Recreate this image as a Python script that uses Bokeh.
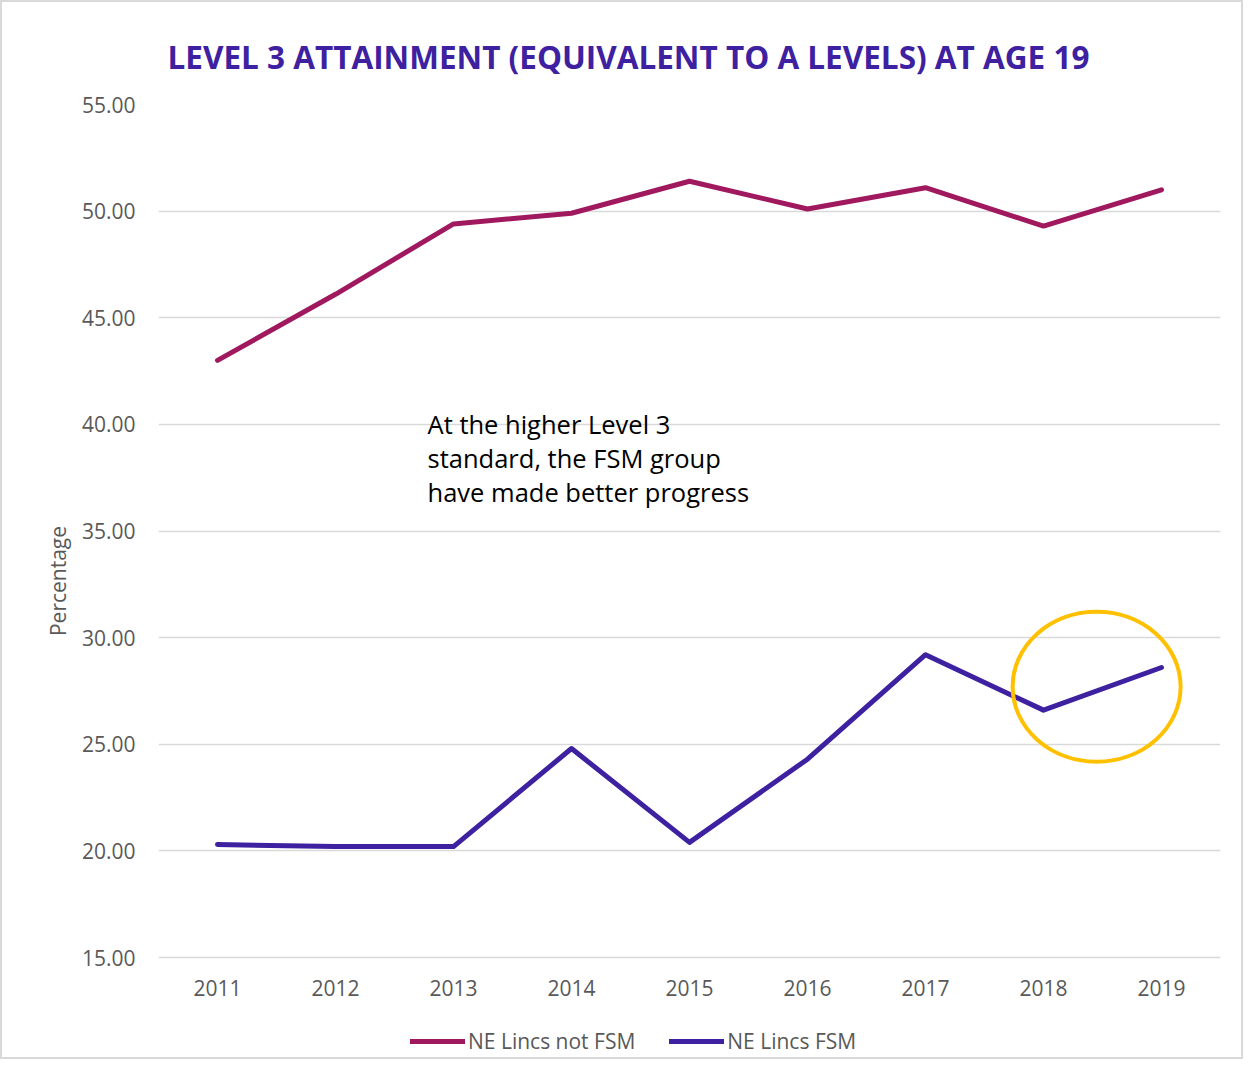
from bokeh.plotting import figure
from bokeh.models import (Range1d, FixedTicker, NumeralTickFormatter, Legend, LegendItem,
                          Label, ColumnDataSource)
from bokeh.embed import file_html
from bokeh.resources import INLINE

years = ["2011", "2012", "2013", "2014", "2015", "2016", "2017", "2018", "2019"]
not_fsm = [43.0, 46.1, 49.4, 49.9, 51.4, 50.1, 51.1, 49.3, 51.0]
fsm = [20.3, 20.2, 20.2, 24.8, 20.4, 24.3, 29.2, 26.6, 28.6]
y_ticks = [15, 20, 25, 30, 35, 40, 45, 50, 55]
title_text = "LEVEL 3 ATTAINMENT (EQUIVALENT TO A LEVELS) AT AGE 19"
note_text = "At the higher Level 3\nstandard, the FSM group\nhave made better progress"
series_names = ["NE Lincs not FSM", "NE Lincs FSM"]

C_NOT = "#A0195F"
C_FSM = "#3D21A0"
GRAY = "#595959"
FONT = "Open Sans"

# plot area 853px for 15..55, plus 100px below the axis for the legend
y_min, y_max = y_ticks[0], y_ticks[-1]
y_start = y_min - (y_max - y_min) * 100 / 853

p = figure(x_range=years, y_range=Range1d(y_start, y_max), frame_width=1062, frame_height=953,
           output_backend="svg", toolbar_location=None,
           min_border_left=156, min_border_right=21, min_border_top=102, min_border_bottom=0)
p.x_range.range_padding = 0
p.outline_line_color = None
p.styles = {"border": "2px solid #D9D9D9"}

p.title.text = title_text
p.title.align = "left"
p.title.vertical_align = "top"
p.title.text_color = C_FSM
p.title.text_font = FONT
p.title.text_font_size = "31.5px"
p.title.text_font_style = "bold"
p.title.offset = 9
p.title.standoff = 49

p.xgrid.grid_line_color = None
p.ygrid.grid_line_color = "#D9D9D9"
p.ygrid.grid_line_width = 1.5

p.yaxis.ticker = FixedTicker(ticks=y_ticks)
p.yaxis.formatter = NumeralTickFormatter(format="0.00")
for ax in (p.xaxis[0], p.yaxis[0]):
    ax.axis_line_color = None
    ax.major_tick_line_color = None
    ax.minor_tick_line_color = None
    ax.major_label_text_color = GRAY
    ax.major_label_text_font = FONT
    ax.major_label_text_font_size = "21px"
p.xaxis.fixed_location = y_min
p.yaxis.major_label_standoff = 17
p.xaxis.major_label_standoff = 16
p.yaxis.axis_label = "Percentage"
p.yaxis.axis_label_text_font = FONT
p.yaxis.axis_label_text_font_size = "21px"
p.yaxis.axis_label_text_font_style = "normal"
p.yaxis.axis_label_text_color = GRAY
p.yaxis.axis_label_standoff = 7

src = ColumnDataSource(dict(x=years, a=not_fsm, b=fsm))
r1 = p.line("x", "a", source=src, line_color=C_NOT, line_width=5, line_cap="round", line_join="round")
r2 = p.line("x", "b", source=src, line_color=C_FSM, line_width=5, line_cap="round", line_join="round")

# highlight ellipse around 2018-2019 FSM segment
p.ellipse(x=[7.95], y=[27.7], width=[168], height=[150], width_units="screen",
          height_units="screen", fill_color=None, line_color="#FFC000", line_width=4)

p.add_layout(Label(x=2.28, y=40.8, text=note_text, text_baseline="top", text_font=FONT,
                   text_font_size="25.5px", text_color="black", text_line_height=1.0))

legend = Legend(items=[LegendItem(label=series_names[0], renderers=[r1]),
                       LegendItem(label=series_names[1], renderers=[r2])],
                orientation="horizontal", location=(252, 2), glyph_width=55,
                label_standoff=3, spacing=34, label_text_font=FONT,
                label_text_font_size="21px", label_text_color=GRAY,
                border_line_color=None, background_fill_alpha=0, padding=0, margin=0)
p.add_layout(legend, "center")

open("out.html", "w").write(file_html(p, INLINE))
